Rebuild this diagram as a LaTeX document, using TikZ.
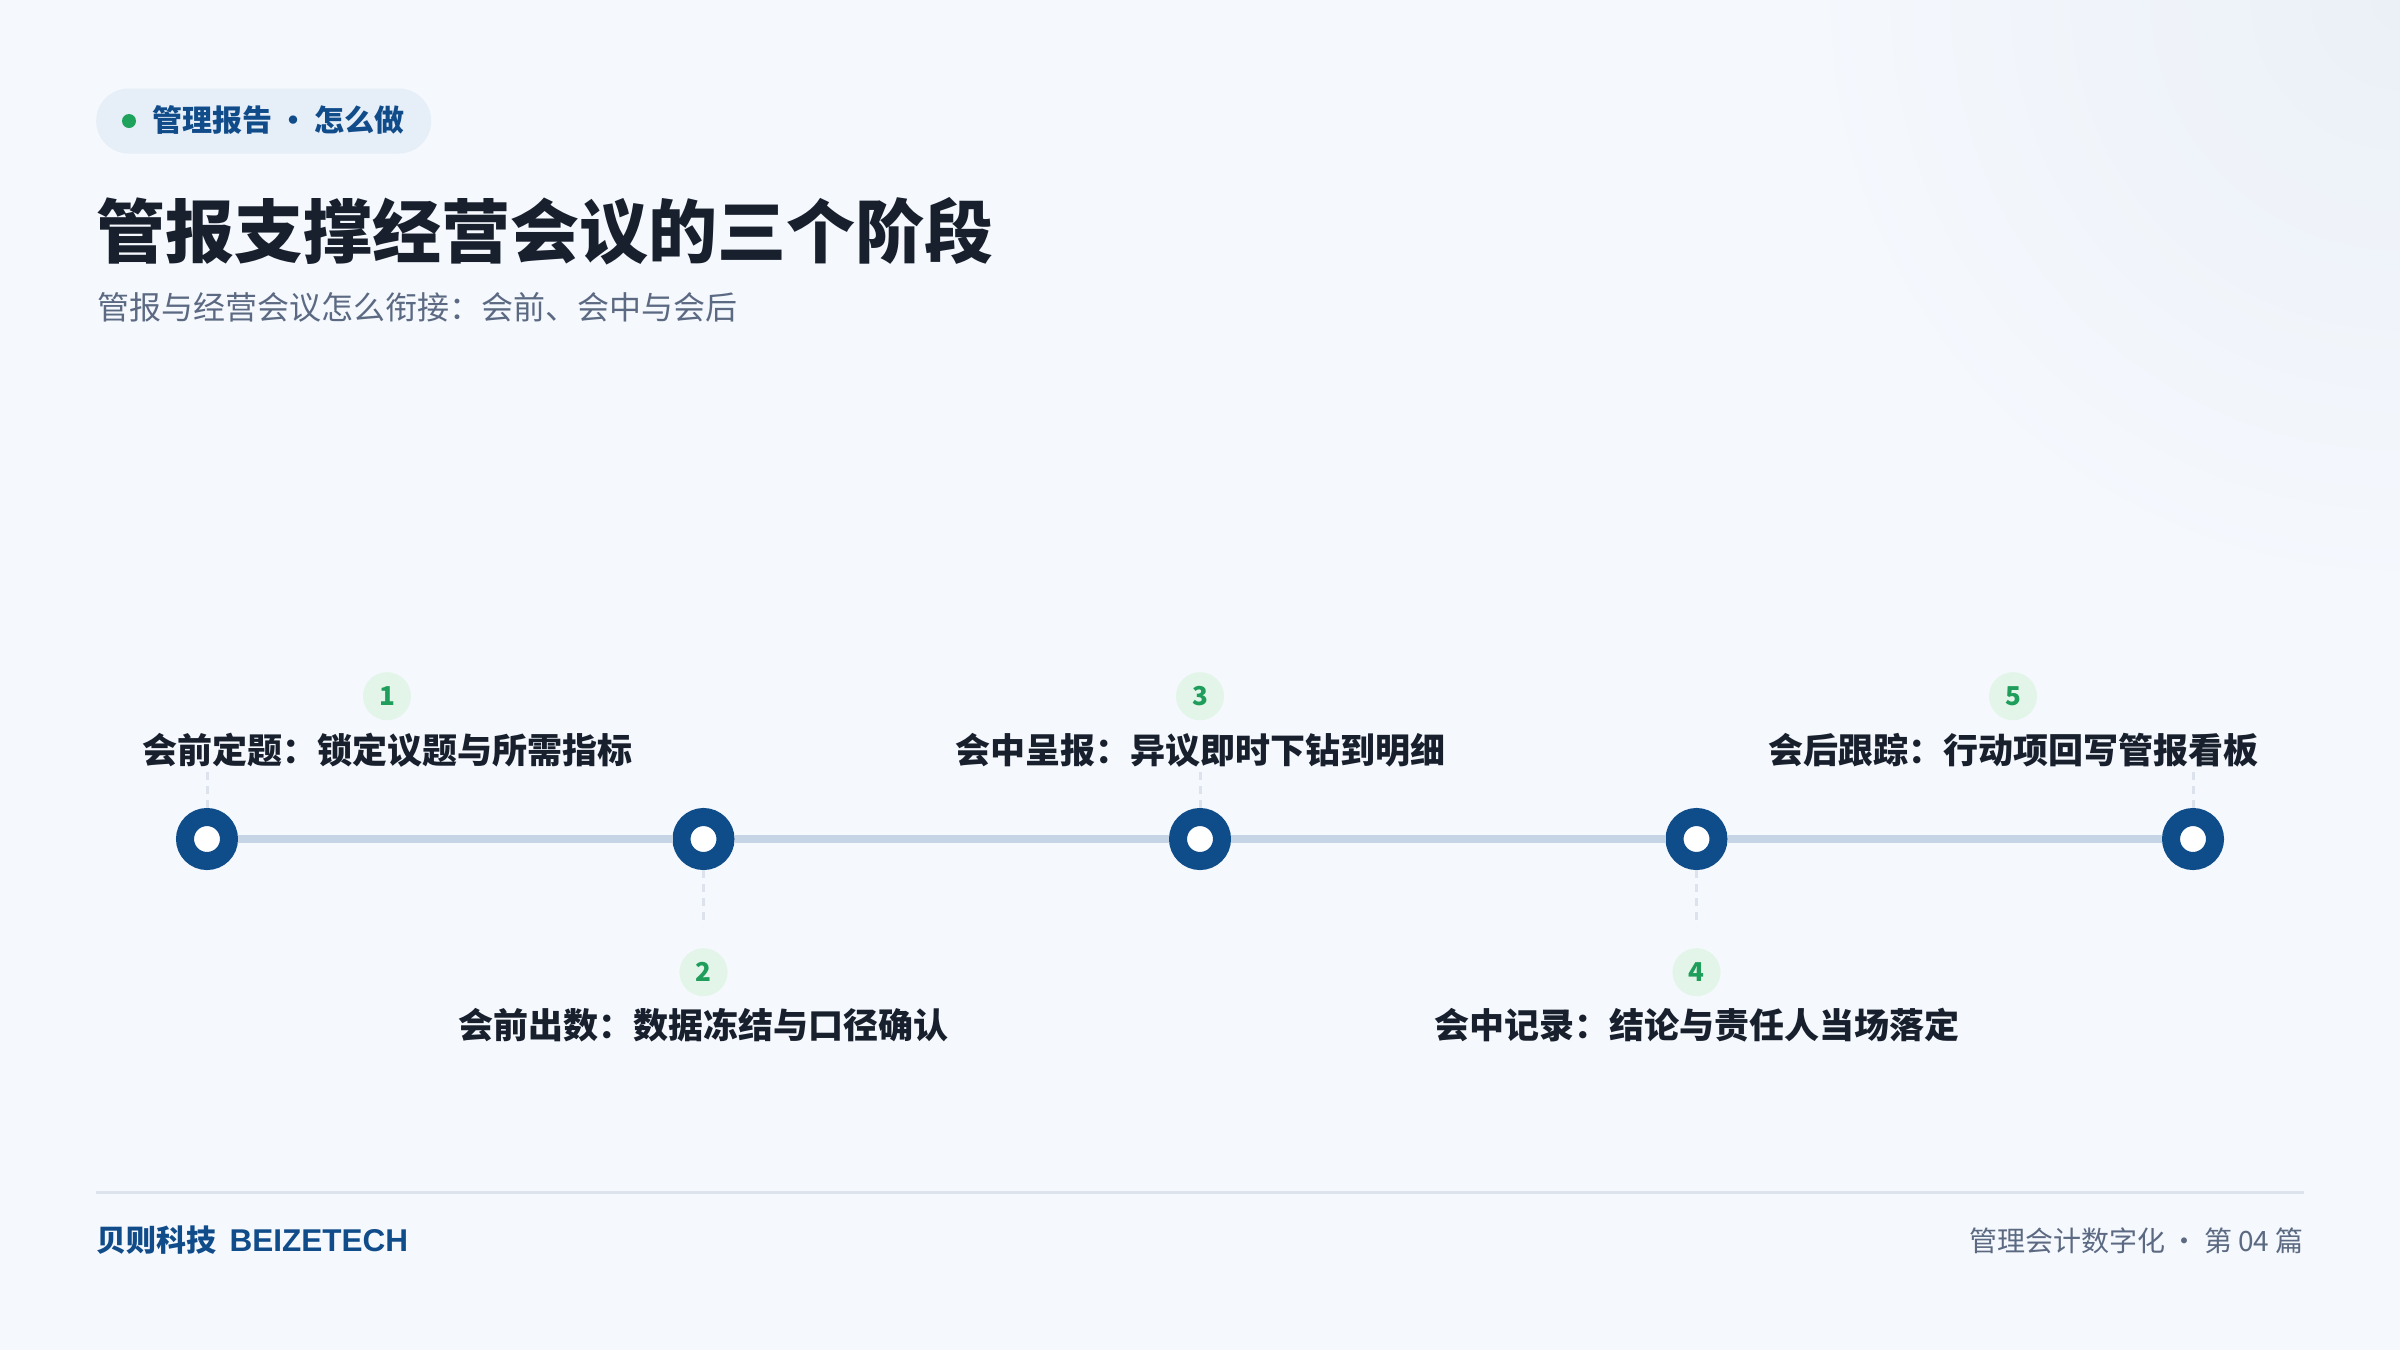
\documentclass[tikz,border=0pt]{standalone}
\usepackage{fontspec}
\setmainfont{Noto Sans CJK SC}
\newfontfamily\brandlatin{Liberation Sans}
\usepackage{tikz}
\usetikzlibrary{positioning,backgrounds}

\definecolor{pagebg}{HTML}{F5F8FD}
\definecolor{pageglow}{HTML}{EBF0F7}
\definecolor{pillfill}{HTML}{E6EEF8}
\definecolor{dotgreen}{HTML}{1FA35C}
\definecolor{navy}{HTML}{114C8A}
\definecolor{ink}{HTML}{18202E}
\definecolor{mutedink}{HTML}{5B6A82}
\definecolor{trackblue}{HTML}{C5D5E5}
\definecolor{ringblue}{HTML}{0F4C8A}
\definecolor{badgefill}{HTML}{E3F4E9}
\definecolor{badgeink}{HTML}{1E9E5A}
\definecolor{dashgray}{HTML}{DCE3EC}
\definecolor{rulegray}{HTML}{DCE3EC}

\begin{document}
\begin{tikzpicture}[x=1pt,y=-1pt,
		ring/.style={shape=circle,draw=ringblue,line width=18pt,fill=white,minimum size=44pt,inner sep=0pt},
		badge/.style={shape=circle,fill=badgefill,text=badgeink,minimum size=48pt,inner sep=0pt,font=\fontsize{26}{26}\selectfont\bfseries},
		stagetext/.style={inner sep=0pt,text=ink,text height=28.7pt,text depth=3.5pt,font=\fontsize{35}{35}\selectfont\bfseries},
		dashline/.style={draw=dashgray,line width=3pt,dash pattern=on 8pt off 6pt},
		track/.style={draw=trackblue,line width=8pt}]
		\useasboundingbox (0,0) rectangle (2400,1350);
		\fill[pagebg] (0,0) rectangle (2400,1350);
		\begin{scope}
			\clip (0,0) rectangle (2400,1350);
			\shade[inner color=pageglow,outer color=pagebg] (2400,0) circle (600);
		\end{scope}

		\begin{scope}
			\node(tag) [shape=rectangle,rounded corners=32.5pt,fill=pillfill,minimum width=335pt,minimum height=65pt,anchor=west] at (96,121) {};
			\node(tagdot) [shape=circle,fill=dotgreen,minimum size=14pt,inner sep=0pt] at ([xshift=33pt]tag.west) {};
			\node(tagtext) [anchor=west,inner sep=0pt,text=navy,text height=24.6pt,text depth=3pt,font=\fontsize{30}{30}\selectfont\bfseries] at ([xshift=56pt]tag.west) {管理报告\hspace{0.2em}·\hspace{0.2em}怎么做};
			\node(title) [anchor=west,inner sep=0pt,text=ink,text height=56.6pt,text depth=6.9pt,font=\fontsize{69}{69}\selectfont\bfseries] at (96,233) {管报支撑经营会议的三个阶段};
			\node(subtitle) [anchor=west,inner sep=0pt,text=mutedink,text height=26.2pt,text depth=3.2pt,font=\fontsize{32}{32}\selectfont] at (97,308) {管报与经营会议怎么衔接：会前、会中与会后};
		\end{scope}

		\begin{scope}
			\node(s1) [ring] at (207,839) {};
			\node(s2) [ring,right=434.5pt of s1] {};
			\node(s3) [ring,right=434.5pt of s2] {};
			\node(s4) [ring,right=434.5pt of s3] {};
			\node(s5) [ring,right=434.5pt of s4] {};
			\foreach \a/\b in {s1/s2,s2/s3,s3/s4,s4/s5}
				\draw[track] (\a) -- (\b);

			\node(t1) [stagetext,above=41pt of s1,xshift=180pt] {会前定题：锁定议题与所需指标};
			\node(b1) [badge,above=14pt of t1] {1};
			\node(t3) [stagetext,above=41pt of s3] {会中呈报：异议即时下钻到明细};
			\node(b3) [badge,above=14pt of t3] {3};
			\node(t5) [stagetext,above=41pt of s5,xshift=-180pt] {会后跟踪：行动项回写管报看板};
			\node(b5) [badge,above=14pt of t5] {5};
			\node(b2) [badge,below=78pt of s2] {2};
			\node(t2) [stagetext,below=13pt of b2] {会前出数：数据冻结与口径确认};
			\node(b4) [badge,below=78pt of s4] {4};
			\node(t4) [stagetext,below=13pt of b4] {会中记录：结论与责任人当场落定};

			\draw[dashline] (s1.north) -- (s1.north |- t1.south);
			\draw[dashline] (s3.north) -- (s3.north |- t3.south);
			\draw[dashline] (s5.north) -- (s5.north |- t5.south);
			\draw[dashline,shorten >=22pt] (s2.south) -- (b2.north);
			\draw[dashline,shorten >=22pt] (s4.south) -- (b4.north);
		\end{scope}

		\begin{scope}
			\draw[draw=rulegray,line width=3pt] (96,1192) -- (2304,1192);
			\node(brand) [anchor=west,inner sep=0pt,text=navy,text height=24.6pt,text depth=3pt,font=\fontsize{30}{30}\selectfont\bfseries] at (96,1241) {贝则科技\hspace{0.45em}{\brandlatin\fontsize{31.5}{31.5}\selectfont BEIZETECH}};
			\node(series) [anchor=east,inner sep=0pt,text=mutedink,text height=23pt,text depth=2.8pt,font=\fontsize{28}{28}\selectfont] at (2304,1241) {管理会计数字化\hspace{0.2em}·\hspace{0.2em}第 04 篇};
		\end{scope}
	\end{tikzpicture}
\end{document}
